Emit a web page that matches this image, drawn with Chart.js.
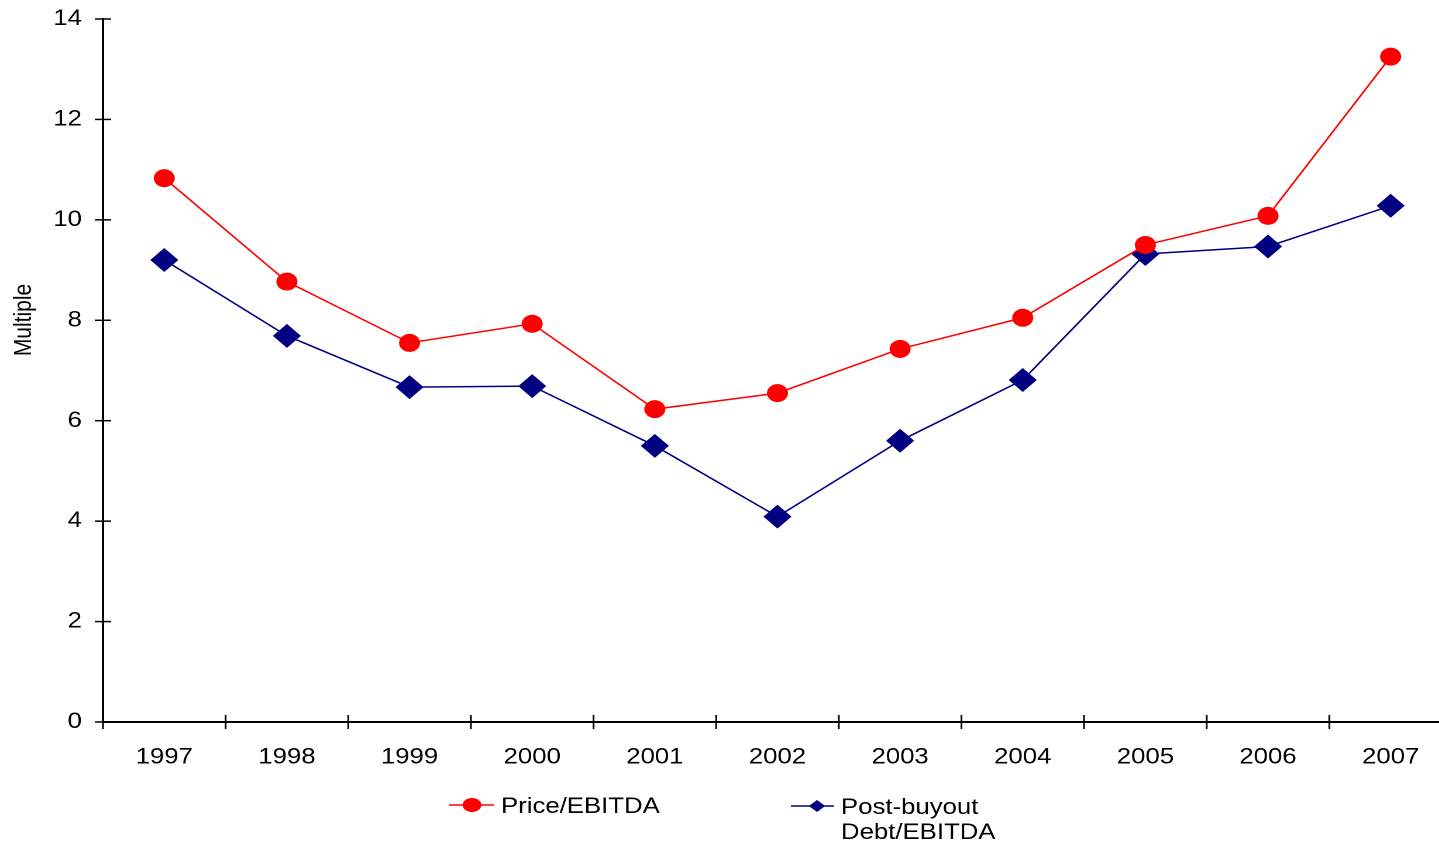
<!DOCTYPE html>
<html>
<head>
<meta charset="utf-8">
<script src="https://cdn.jsdelivr.net/npm/chart.js@4"></script>
<style>
  html, body { margin: 0; padding: 0; background: #fff; overflow: hidden; }
  #wrap { width: 1439px; height: 843px; overflow: hidden; }
  canvas { display: block; }
</style>
</head>
<body>
<div id="wrap">
  <canvas id="c" width="1253" height="843" style="width:1466px;height:843px;"></canvas>
</div>
<script>
// ---- data ----
const categories = ['1997', '1998', '1999', '2000', '2001', '2002', '2003', '2004', '2005', '2006', '2007'];
const priceEbitda = [10.83, 8.77, 7.55, 7.93, 6.23, 6.55, 7.43, 8.05, 9.50, 10.08, 13.25];
const debtEbitda  = [9.20, 7.69, 6.67, 6.69, 5.50, 4.09, 5.60, 6.81, 9.32, 9.47, 10.28];
const yTicks = [0, 2, 4, 6, 8, 10, 12, 14];
const seriesNames = ['Price/EBITDA', ['Post-buyout', 'Debt/EBITDA']];
const yTitle = 'Multiple';

const FONT = '"Liberation Sans", Arial, sans-serif';
const RED = '#ff0000';
const NAVY = '#000080';

const crossTicks = {
  id: 'crossTicks',
  afterDraw(chart) {
    const ctx = chart.ctx;
    const x = chart.scales.x, y = chart.scales.y;
    const ax = chart.chartArea.left, ay = chart.chartArea.bottom;
    ctx.save();
    ctx.strokeStyle = '#000';
    ctx.lineWidth = 1.5;
    y.ticks.forEach(t => {
      const py = y.getPixelForValue(t.value);
      ctx.beginPath();
      ctx.moveTo(ax - 7, py);
      ctx.lineTo(ax + 7, py);
      ctx.stroke();
    });
    for (let i = 0; i <= categories.length; i++) {
      const px = x.getPixelForValue(i - 0.5);
      ctx.beginPath();
      ctx.moveTo(px, ay - 7);
      ctx.lineTo(px, ay + 7);
      ctx.stroke();
    }
    ctx.fillStyle = '#000';
    ctx.font = '21px ' + FONT;
    ctx.translate(20.5, 320);
    ctx.rotate(-Math.PI / 2);
    ctx.textAlign = 'center';
    ctx.textBaseline = 'middle';
    ctx.fillText(yTitle, 0, 0);
    ctx.restore();
  }
};

const customLegend = {
  id: 'customLegend',
  afterDraw(chart) {
    const ctx = chart.ctx;
    const ds = chart.data.datasets;
    ctx.save();
    ctx.font = '22px ' + FONT;
    ctx.fillStyle = '#000';
    ctx.textAlign = 'left';
    ctx.textBaseline = 'alphabetic';
    ctx.strokeStyle = ds[0].borderColor;
    ctx.lineWidth = 1.5;
    ctx.beginPath(); ctx.moveTo(383.8, 805); ctx.lineTo(422.2, 805); ctx.stroke();
    ctx.fillStyle = ds[0].backgroundColor;
    ctx.beginPath(); ctx.ellipse(403.4, 805, 8, 7, 0, 0, Math.PI * 2); ctx.fill();
    ctx.fillStyle = '#000';
    ctx.fillText(seriesNames[0], 428.2, 813);
    ctx.strokeStyle = ds[1].borderColor;
    ctx.beginPath(); ctx.moveTo(676, 806); ctx.lineTo(712.8, 806); ctx.stroke();
    ctx.fillStyle = ds[1].backgroundColor;
    ctx.beginPath();
    ctx.moveTo(698.3 - 7, 806); ctx.lineTo(698.3, 806 - 6);
    ctx.lineTo(698.3 + 7, 806); ctx.lineTo(698.3, 806 + 6);
    ctx.closePath(); ctx.fill();
    ctx.fillStyle = '#000';
    ctx.fillText(seriesNames[1][0], 718.8, 814);
    ctx.fillText(seriesNames[1][1], 718.8, 839);
    ctx.restore();
  }
};

new Chart(document.getElementById('c'), {
  type: 'line',
  data: {
    labels: categories,
    datasets: [
      {
        label: 'Price/EBITDA',
        data: priceEbitda,
        borderColor: RED,
        backgroundColor: RED,
        borderWidth: 1.5,
        pointStyle: 'circle',
        pointRadius: 9,
        pointHoverRadius: 9,
        pointBorderWidth: 0,
        tension: 0
      },
      {
        label: 'Post-buyout Debt/EBITDA',
        data: debtEbitda,
        borderColor: NAVY,
        backgroundColor: NAVY,
        borderWidth: 1.5,
        pointStyle: 'rectRot',
        pointRadius: 12,
        pointHoverRadius: 12,
        pointBorderWidth: 0,
        tension: 0
      }
    ]
  },
  options: {
    responsive: false,
    devicePixelRatio: 2,
    animation: false,
    layout: { padding: { top: 19, right: 8, bottom: 0, left: 0 } },
    plugins: {
      legend: { display: false },
      tooltip: { enabled: false }
    },
    scales: {
      x: {
        type: 'category',
        offset: true,
        grid: { display: false, drawTicks: true, tickLength: 22 },
        border: { display: true, color: '#000', width: 2 },
        ticks: {
          color: '#000',
          font: { family: FONT, size: 22 },
          padding: 0,
          maxRotation: 0,
          autoSkip: false
        },
        afterFit(scale) {
          scale.height = 121;
          scale.paddingLeft = 0; scale.paddingRight = 0;
          scale.paddingTop = 0; scale.paddingBottom = 0;
        }
      },
      y: {
        min: 0,
        max: 14,
        afterBuildTicks(scale) { scale.ticks = yTicks.map(v => ({ value: v })); },
        grid: { display: false, drawTicks: false },
        border: { display: true, color: '#000', width: 2 },
        ticks: {
          color: '#000',
          font: { family: FONT, size: 22 },
          padding: 18
        },
        afterFit(scale) {
          scale.width = 88;
          scale.paddingTop = 0; scale.paddingBottom = 0;
          scale.paddingLeft = 0; scale.paddingRight = 0;
        }
      }
    }
  },
  plugins: [crossTicks, customLegend]
});
</script>
</body>
</html>
